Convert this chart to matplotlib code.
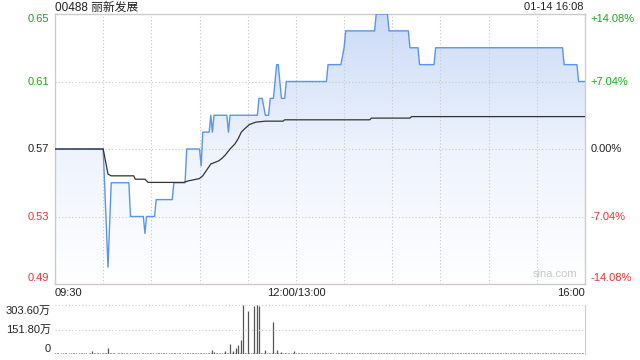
import matplotlib
matplotlib.use("Agg")
import matplotlib.pyplot as plt
import numpy as np
from matplotlib.colors import LinearSegmentedColormap

plt.rcParams['font.family'] = ['Liberation Sans', 'Noto Sans CJK SC', 'DejaVu Sans']

# ---------------- data ----------------
title = "00488 丽新发展"
stamp = "01-14 16:08"
price_ticks = [0.65, 0.61, 0.57, 0.53, 0.49]
price_labels = ["0.65", "0.61", "0.57", "0.53", "0.49"]
pct_labels = ["+14.08%", "+7.04%", "0.00%", "-7.04%", "-14.08%"]
tick_colors = ["#1aa61a", "#1aa61a", "#222222", "#f03030", "#f03030"]
x_labels = ["09:30", "12:00/13:00", "16:00"]
vol_labels = ["303.60万", "151.80万", "0"]
vol_ticks = [303.6, 151.8, 0]

price_times = ["09:30", "10:00", "10:03", "10:05", "10:16", "10:17", "10:25", "10:26",
               "10:27", "10:32", "10:33", "10:43", "10:44", "10:51", "10:52", "11:00",
               "11:01", "11:02", "11:06", "11:07", "11:08", "11:09", "11:17", "11:18",
               "11:19", "11:36", "11:37", "11:39", "11:41", "11:43", "11:44", "11:46",
               "11:48", "11:49", "11:51", "11:53", "11:54", "13:19", "13:20", "13:28",
               "13:30", "13:31", "13:49", "13:50", "13:57", "13:58", "14:10", "14:11",
               "14:16", "14:17", "14:26", "14:27", "15:46", "15:47", "15:55", "15:56",
               "16:00"]
price_values = [0.57, 0.57, 0.50, 0.55, 0.55, 0.53, 0.53, 0.52,
                0.53, 0.53, 0.54, 0.54, 0.55, 0.55, 0.57, 0.57,
                0.56, 0.58, 0.58, 0.59, 0.58, 0.59, 0.59, 0.58,
                0.59, 0.59, 0.60, 0.60, 0.59, 0.59, 0.60, 0.60,
                0.62, 0.62, 0.60, 0.60, 0.61, 0.61, 0.62, 0.62,
                0.63, 0.64, 0.64, 0.65, 0.65, 0.64, 0.64, 0.63,
                0.63, 0.62, 0.62, 0.63, 0.63, 0.62, 0.62, 0.61,
                0.61]

avg_times = ["09:30", "10:00", "10:03", "10:05", "10:19", "10:20", "10:26", "10:28",
             "10:50", "10:53", "11:00", "11:02", "11:07", "11:12", "11:14", "11:16",
             "11:19", "11:22", "11:24", "11:26", "11:28", "11:31", "11:35", "11:41",
             "11:52", "11:53", "13:46", "13:47", "14:11", "14:12", "16:00"]
avg_values = [0.5700, 0.5700, 0.5551, 0.5541, 0.5541, 0.5521, 0.5521, 0.5502,
              0.5502, 0.5511, 0.5525, 0.5541, 0.5611, 0.5630, 0.5645, 0.5664,
              0.5700, 0.5730, 0.5760, 0.5800, 0.5819, 0.5845, 0.5859, 0.5865,
              0.5865, 0.5873, 0.5873, 0.5883, 0.5883, 0.5892, 0.5892]

# volume per minute (万), one row per half hour
volume = [
    5, 4, 5, 3, 5, 4, 4, 5, 3, 4, 5, 4, 4, 5, 3, 4, 5, 4, 5, 4, 3, 5, 6, 18, 7, 5, 4, 6, 5, 4,
    5, 4, 6, 37, 5, 4, 5, 4, 3, 5, 4, 5, 4, 6, 4, 5, 3, 4, 5, 6, 4, 5, 4, 3, 5, 4, 6, 5, 4, 5,
    4, 5, 3, 5, 4, 6, 5, 4, 5, 4, 3, 5, 4, 5, 6, 4, 5, 4, 5, 3, 5, 4, 6, 9, 5, 4, 5, 6, 4, 5,
    6, 5, 8, 4, 6, 5, 4, 6, 25, 12, 6, 9, 4, 6, 5, 4, 18, 5, 4, 60, 5, 18, 5, 39, 55, 6, 85, 303.6, 5, 6,
    267, 5, 6, 5, 300, 5, 303.6, 300, 6, 5, 4, 25, 5, 4, 6, 5, 198, 5, 25, 6, 4, 10, 5, 4, 5, 6, 4, 5, 6, 18,
    5, 4, 5, 6, 4, 5, 4, 5, 3, 5, 4, 5, 6, 4, 5, 4, 5, 4, 5, 6, 4, 5, 4, 5, 3, 5, 4, 5, 8, 5,
    4, 5, 6, 4, 5, 4, 5, 3, 5, 4, 8, 5, 4, 5, 6, 4, 5, 4, 5, 4, 5, 6, 8, 5, 4, 5, 4, 5, 6, 4,
    5, 4, 5, 6, 4, 5, 4, 5, 4, 5, 6, 4, 9, 5, 8, 4, 5, 6, 4, 5, 4, 5, 4, 5, 6, 4, 5, 4, 5, 4,
    5, 4, 5, 6, 4, 5, 4, 5, 4, 5, 4, 6, 5, 4, 5, 4, 5, 6, 4, 5, 4, 5, 4, 5, 6, 4, 5, 4, 5, 4,
    5, 6, 4, 5, 4, 5, 4, 5, 6, 4, 5, 4, 5, 4, 5, 6, 8, 4, 5, 4, 5, 4, 5, 6, 4, 5, 4, 5, 4, 5,
    4, 5, 6, 4, 5, 4, 5, 4, 5, 6, 4, 5, 4, 5, 4, 5, 6, 4, 5, 4, 5, 4, 5, 6, 4, 5, 4, 5, 6, 4,
]


def tidx(t):
    h, m = map(int, t.split(":"))
    mins = h * 60 + m
    if mins <= 12 * 60:
        return mins - (9 * 60 + 30)
    return mins - 13 * 60 + 150


W, H = 640, 360
fig = plt.figure(figsize=(W / 100, H / 100), dpi=100)
fig.patch.set_facecolor("white")


def fx(px):
    return px / W


def fy(py):
    return 1 - py / H


ax = fig.add_axes([fx(55), fy(284), (585 - 55) / W, (284 - 14) / H])
vax = fig.add_axes([fx(55), fy(354), (585 - 55) / W, (354 - 305) / H])

px_ = np.array([tidx(t) for t in price_times], dtype=float)
py_ = np.array(price_values)
ax_ = np.array([tidx(t) for t in avg_times], dtype=float)
ay_ = np.array(avg_values)

ymin, ymax = 0.49, 0.65
ax.set_xlim(0, 330)
ax.set_ylim(ymin, ymax)

# gradient fill under price line
cmap = LinearSegmentedColormap.from_list("g", ["#ffffff", "#eef3fd", "#cbdbf7"])
grad = np.linspace(0, 1, 256).reshape(-1, 1)
im = ax.imshow(grad, extent=[0, 330, ymin, ymax], origin="lower", aspect="auto",
               cmap=cmap, zorder=1)
poly = ax.fill_between(px_, py_, ymin, color="none", lw=0)
im.set_clip_path(poly.get_paths()[0], transform=ax.transData)

# grids
for m in range(30, 330, 30):
    ax.axvline(m, color="#c8c8c8", lw=0.8, ls=(0, (1, 2)), zorder=2)
for v in [0.61, 0.57, 0.53]:
    ax.axhline(v, color="#c8c8c8", lw=0.8, ls=(0, (1, 2)), zorder=2)

ax.plot(px_, py_, color="#5b94ee", lw=1.0, zorder=4)
ax.plot(ax_, ay_, color="#333333", lw=0.9, zorder=5)

for s in ax.spines.values():
    s.set_color("#cccccc")
    s.set_linewidth(1.0)
ax.set_xticks([])
ax.set_yticks([])

fs = 8
# left price labels & right pct labels (extreme labels pulled inside the range)
offs = [5, 0, 0, 0, -6]
for v, lab, pl, c, o in zip(price_ticks, price_labels, pct_labels, tick_colors, offs):
    ax.annotate(lab, xy=(0, v), xycoords=("axes fraction", "data"),
                xytext=(-4, -o * 0.72), textcoords="offset points",
                ha="right", va="center", fontsize=fs, color=c)
    ax.annotate(pl, xy=(1, v), xycoords=("axes fraction", "data"),
                xytext=(4, -o * 0.72), textcoords="offset points",
                ha="left", va="center", fontsize=fs, color=c)

# x labels
fig.text(fx(55), fy(293), x_labels[0], ha="left", va="center", fontsize=fs, color="#222222")
fig.text(fx(296), fy(293), x_labels[1], ha="center", va="center", fontsize=fs, color="#222222")
fig.text(fx(585), fy(293), x_labels[2], ha="right", va="center", fontsize=fs, color="#222222")

# title and timestamp
fig.text(fx(55), fy(7.5), title, ha="left", va="center", fontsize=8.5, color="#222222")
fig.text(fx(584), fy(7.5), stamp, ha="right", va="center", fontsize=8, color="#222222")

# watermark
ax.text(0.985, 0.02, "sina.com", transform=ax.transAxes, ha="right", va="bottom",
        fontsize=8, color="#c8c8c8", zorder=6)

# volume panel
vm = np.arange(len(volume))
vax.vlines(vm, 0, volume, color="#555555", lw=0.9)
vax.set_xlim(0, 330)
vax.set_ylim(0, 303.6)
for v in [303.6, 151.8]:
    vax.axhline(v, color="#c8c8c8", lw=0.8, ls=(0, (1, 2)), clip_on=False)
for k, s in vax.spines.items():
    s.set_visible(k == "right")
    s.set_color("#cccccc")
vax.set_xticks([])
vax.set_yticks([])
vpix = [310.5, 329.5, 348.5]
for lab, py in zip(vol_labels, vpix):
    fig.text(fx(51), fy(py), lab, ha="right", va="center", fontsize=fs, color="#222222")

fig.savefig("out.png", dpi=100, facecolor="white")
